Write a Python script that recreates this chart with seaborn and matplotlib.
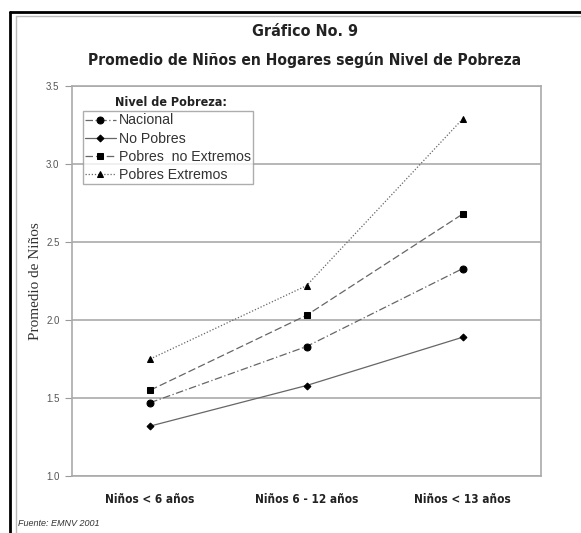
import numpy as np
import pandas as pd
import seaborn as sns
from matplotlib import pyplot as plt
from matplotlib.lines import Line2D

##############################################

categories = ["Niños < 6 años", "Niños 6 - 12 años", "Niños < 13 años"]
series_names = ["Nacional", "No Pobres", "Pobres  no Extremos", "Pobres Extremos"]
nacional = [1.47, 1.83, 2.33]
no_pobres = [1.32, 1.58, 1.89]
pobres_no_extremos = [1.55, 2.03, 2.68]
pobres_extremos = [1.75, 2.22, 3.29]
y_ticks = [1.0, 1.5, 2.0, 2.5, 3.0, 3.5]

##############################################

sns.set_style("white")
plt.rcParams["font.family"] = ["Liberation Sans", "DejaVu Sans"]

# condensed bold face, like the original headings
narrow = dict(family="DejaVu Sans", fontstretch="condensed", fontweight="bold")

values = [nacional, no_pobres, pobres_no_extremos, pobres_extremos]
styles = {
    "Nacional": dict(marker="o", ms=5, dashes=(6, 2, 1, 2)),
    "No Pobres": dict(marker="D", ms=3.5, dashes=()),
    "Pobres  no Extremos": dict(marker="s", ms=5, dashes=(6, 2.5)),
    "Pobres Extremos": dict(marker="^", ms=5, dashes=(1, 1.5)),
}

fig = plt.figure(figsize=(5.81, 5.33), dpi=100)
ax = fig.add_axes([72 / 581, 57 / 533, 469 / 581, 390 / 533])

for name, vals in zip(series_names, values):
    st = styles[name]
    df = pd.DataFrame({"cat": categories, "val": vals})
    sns.lineplot(
        data=df, x="cat", y="val", ax=ax, sort=False,
        color="#666666", linewidth=0.9,
        marker=st["marker"], markersize=st["ms"],
        markerfacecolor="black", markeredgecolor="black",
        label=name,
    )
    if st["dashes"]:
        ax.lines[-1].set_dashes(st["dashes"])

ax.set_xlim(-0.5, 2.5)
ax.set_ylim(1.0, 3.5)
ax.set_yticks(y_ticks)
ax.set_yticklabels([f"{t:.1f}" for t in y_ticks], fontsize=7, color="#555555")
ax.set_xticks(range(len(categories)))
ax.set_xticklabels(categories, fontsize=8.5, color="#222222", **narrow)
ax.set_xticks([0.5, 1.5], minor=True)
ax.tick_params(axis="x", which="major", length=0, pad=12)
ax.tick_params(axis="x", which="minor", length=3, direction="inout", color="#999999")
ax.tick_params(axis="y", length=5, color="#999999", direction="out", left=True, pad=4)
ax.yaxis.grid(True, color="#aaaaaa", linewidth=1.2)
ax.set_axisbelow(True)
for spine in ax.spines.values():
    spine.set_color("#aaaaaa")
    spine.set_linewidth(1.2)
ax.set_xlabel("")
ax.set_ylabel("Promedio de Niños", family="Liberation Serif", fontsize=11,
              color="#333333", labelpad=3)

leg = ax.legend(loc="upper left", bbox_to_anchor=(0.023, 0.935), fontsize=10.2,
                frameon=True, fancybox=False, borderpad=0.15, labelspacing=0.3,
                handlelength=2.2, handletextpad=0.2, borderaxespad=0)
leg.get_frame().set_edgecolor("#999999")
leg.get_frame().set_linewidth(1.0)
for t in leg.get_texts():
    t.set_color("#333333")

fig.text(171 / 581, 1 - 102 / 533, "Nivel de Pobreza:", ha="center", va="center",
         fontsize=9, color="#222222", **narrow)

fig.text(305 / 581, 1 - 31 / 533, "Gráfico No. 9", ha="center", va="center",
         fontsize=11.5, color="#222222", **narrow)
fig.text(305 / 581, 1 - 60 / 533, "Promedio de Niños en Hogares según Nivel de Pobreza",
         ha="center", va="center", fontsize=11.2, color="#222222", **narrow)
fig.text(18 / 581, 1 - 523 / 533, "Fuente: EMNV 2001", ha="left", va="center",
         fontsize=6.5, style="italic", color="#333333")

# outer frame
fig.add_artist(Line2D([10 / 581, 1], [1 - 12 / 533] * 2, color="black", lw=2))
fig.add_artist(Line2D([10 / 581] * 2, [0, 1 - 12 / 533], color="black", lw=2))
fig.add_artist(Line2D([16 / 581, 1], [1 - 16 / 533] * 2, color="#bbbbbb", lw=1))
fig.add_artist(Line2D([16 / 581] * 2, [0, 1 - 16 / 533], color="#bbbbbb", lw=1))

fig.savefig("out.png", dpi=100)
